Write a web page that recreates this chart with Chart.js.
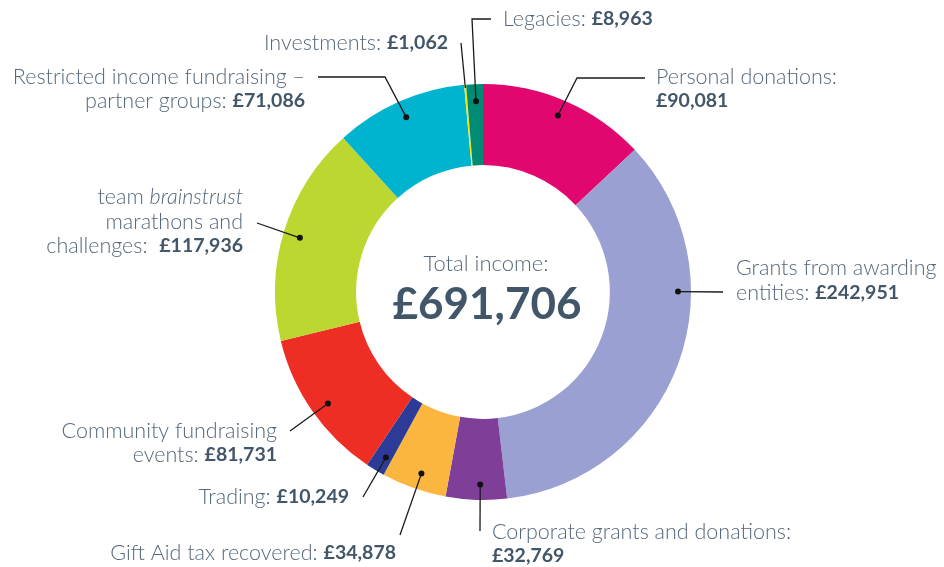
<!DOCTYPE html>
<html>
<head>
<meta charset="utf-8">
<script src="https://cdn.jsdelivr.net/npm/chart.js@4/dist/chart.umd.min.js"></script>
<style>
  html, body { margin: 0; padding: 0; background: #ffffff; }
  #wrap { position: relative; width: 944px; height: 567px; }
</style>
</head>
<body>
<div id="wrap"><canvas id="chart"></canvas></div>
<script>
// income categories, clockwise from 12 o'clock
const categories = [
    'Personal donations',
    'Grants from awarding entities',
    'Corporate grants and donations',
    'Gift Aid tax recovered',
    'Trading',
    'Community fundraising events',
    'team brainstrust marathons and challenges',
    'Restricted income fundraising – partner groups',
    'Investments',
    'Legacies'
];
const amounts = [90081, 242951, 32769, 34878, 10249, 81731, 117936, 71086, 1062, 8963];
const colours = ['#e2066f', '#9aa0d1', '#7f3f98', '#fbb63f', '#2b3b97', '#ee2e24', '#bdd731', '#00b3cf', '#f5e614', '#008b74'];

// label text lines; the value goes on the end of the last line, *word* = italic
const labelLines = [
    ['Personal donations:', ''],
    ['Grants from awarding', 'entities: '],
    ['Corporate grants and donations:', ''],
    ['Gift Aid tax recovered: '],
    ['Trading: '],
    ['Community fundraising', 'events: '],
    ['team *brainstrust*', 'marathons and', 'challenges:  '],
    ['Restricted income fundraising –', 'partner groups: '],
    ['Investments: '],
    ['Legacies: ']
];

const totalLabel = 'Total income:';

// leader layout: dot on the ring (t along arc, rf across ring), elbow points, text anchor
const leaders = [
    { t: 0.49, rf: 0.80, pts: [[577, 78], [645, 78]], x: 656, y: [77, 101], align: 'left' },
    { t: 0.34, rf: 0.84, pts: [[723, 292]], x: 736, y: [268, 293], align: 'left' },
    { t: 0.44, rf: 0.81, pts: [[480, 531]], x: 492, y: [532, 556], align: 'left' },
    { t: 0.46, rf: 0.80, pts: [[400, 535]], x: 396, y: [553], align: 'right' },
    { t: 0.35, rf: 0.80, pts: [[363, 497]], x: 349, y: [497], align: 'right' },
    { t: 0.48, rf: 0.79, pts: [[290, 431]], x: 277, y: [431, 455], align: 'right' },
    { t: 0.49, rf: 0.79, pts: [[257, 223]], x: 243, y: [197, 222, 246], align: 'right' },
    { t: 0.50, rf: 0.79, pts: [[385, 77], [318, 77]], x: 305, y: [77, 101], align: 'right' },
    { t: 0.50, rf: 0.96, pts: [[461, 43]], x: 448, y: [43], align: 'right', noDot: true },
    { t: 0.55, rf: 0.79, pts: [[472, 19], [491, 19]], x: 503, y: [19], align: 'left' }
];

const TEXT = '#55687b';
const BOLD = '#415669';
const FONT = 'Lato';
const FS = 21.5;
const FS_BOLD = 19.5;

function money(v) {
    return '£' + v.toLocaleString('en-GB');
}

function splitParts(line) {
    // returns [{text, style}]
    const out = [];
    const bits = line.split('*');
    bits.forEach((b, i) => {
        if (b.length) out.push({ text: b, style: i % 2 ? 'italic' : 'normal' });
    });
    return out;
}

const labelPlugin = {
    id: 'labelPlugin',
    afterDraw(chart) {
        const ctx = chart.ctx;
        const arcs = chart.getDatasetMeta(0).data;
        ctx.save();

        arcs.forEach((arc, i) => {
            const L = leaders[i];
            const p = arc.getProps(['x', 'y', 'startAngle', 'endAngle', 'innerRadius', 'outerRadius'], true);
            const a = p.startAngle + L.t * (p.endAngle - p.startAngle);
            const r = p.innerRadius + L.rf * (p.outerRadius - p.innerRadius);
            const dx = p.x + Math.cos(a) * r;
            const dy = p.y + Math.sin(a) * r;

            ctx.strokeStyle = '#1a1a1a';
            ctx.lineWidth = 1.3;
            ctx.beginPath();
            ctx.moveTo(dx, dy);
            L.pts.forEach(q => ctx.lineTo(q[0], q[1]));
            ctx.stroke();

            if (!L.noDot) {
                ctx.fillStyle = '#111111';
                ctx.beginPath();
                ctx.arc(dx, dy, 3, 0, Math.PI * 2);
                ctx.fill();
            }

            // text lines
            const lines = labelLines[i];
            ctx.textBaseline = 'middle';
            lines.forEach((line, li) => {
                const parts = splitParts(line).map(s => ({ text: s.text, font: s.style + ' 300 ' + FS + 'px ' + FONT, color: TEXT }));
                if (li === lines.length - 1) {
                    parts.push({ text: money(amounts[i]), font: 'normal 700 ' + FS_BOLD + 'px ' + FONT, color: BOLD });
                }
                let w = 0;
                parts.forEach(s => { ctx.font = s.font; s.w = ctx.measureText(s.text).width; w += s.w; });
                let x = L.align === 'right' ? L.x - w : L.x;
                parts.forEach(s => {
                    ctx.font = s.font;
                    ctx.fillStyle = s.color;
                    ctx.textAlign = 'left';
                    ctx.fillText(s.text, x, L.y[li]);
                    x += s.w;
                });
            });
        });

        // centre total
        const c = arcs[0];
        const total = amounts.reduce((s, v) => s + v, 0);
        ctx.textAlign = 'center';
        ctx.textBaseline = 'middle';
        ctx.fillStyle = TEXT;
        ctx.font = '300 22px ' + FONT;
        ctx.fillText(totalLabel, c.x + 3, 264);
        ctx.fillStyle = BOLD;
        ctx.font = '700 44px ' + FONT;
        ctx.fillText(money(total), c.x + 4, 305);

        ctx.restore();
    }
};

new Chart(document.getElementById('chart'), {
    type: 'doughnut',
    data: {
        labels: categories,
        datasets: [{
            data: amounts,
            backgroundColor: colours,
            borderWidth: 0,
            hoverOffset: 0,
            offset: 0
        }]
    },
    options: {
        responsive: true,
        maintainAspectRatio: false,
        animation: false,
        cutout: '61%',
        rotation: 0,
        layout: { padding: { top: 84, bottom: 67, left: 275, right: 253 } },
        plugins: {
            legend: { display: false },
            tooltip: { enabled: false }
        },
        events: []
    },
    plugins: [labelPlugin]
});
</script>
</body>
</html>
